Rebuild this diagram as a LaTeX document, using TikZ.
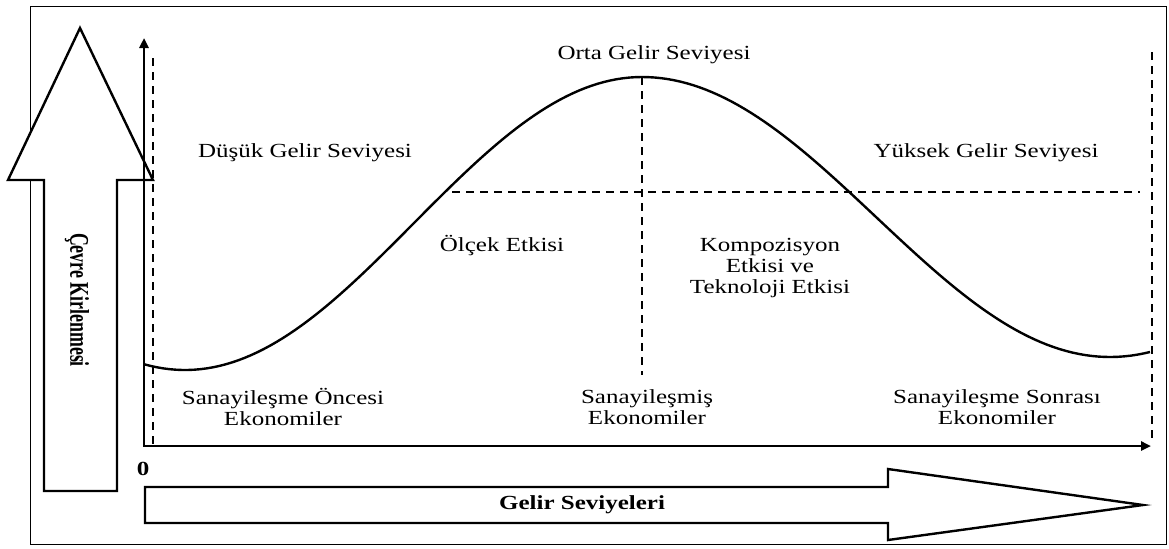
\documentclass[tikz,border=0pt]{standalone}
\usepackage{fontspec}
\setmainfont{Liberation Serif}[FakeStretch=1.25]
\newfontfamily\narrowserif{Liberation Serif}[FakeStretch=0.66]
\usetikzlibrary{arrows.meta}

\begin{document}
\begin{tikzpicture}[x=0.5pt,y=-0.5pt,
        axis/.style={line width=1.2pt,{Triangle[length=5pt,width=4.5pt]}-{Triangle[length=5pt,width=4.5pt]}},
        guide/.style={line width=1pt,dash pattern=on 4pt off 3pt},
        bigarrow/.style={draw,line width=1.2pt,fill=white,line join=miter},
        curve/.style={line width=1.2pt}]
            \useasboundingbox (0,0) rectangle (1169,548);
            \draw[line width=0.5pt] (30,6) rectangle (1166,544);
            \draw[bigarrow] (80,28) -- (153,180) -- (117,180) -- (117,491) -- (44,491) -- (44,180) -- (8,180) -- cycle;
            \draw[bigarrow] (145,487) -- (888,487) -- (888,469) -- (1143,505) -- (888,540) -- (888,523) -- (145,523) -- cycle;
            \coordinate (origin) at (144,446);
            \coordinate (ytop) at (144,38);
            \coordinate (xend) at (1151,446);
            \draw[axis] (ytop) -- (origin) -- (xend);
            \draw[guide] (153,58) -- (153,446);
            \draw[guide] (642,77) -- (642,375);
            \draw[guide] (1152,52) -- (1152,440);
            \draw[guide] (452,192) -- (1140,192);
            \draw[curve] plot[domain=144:642,samples=80] (\x,{370-146.5*(1+cos((\x-642)/457*180))})
                -- plot[domain=642:1150,samples=80] (\x,{357-140*(1+cos((\x-642)/468*180))});
            \begin{scope}[every node/.style={font=\fontsize{10}{10.5}\selectfont,align=center}]
                \node (mid) at (654,55) {Orta Gelir Seviyesi};
                \node (low) at (305,153) {Düşük Gelir Seviyesi};
                \node (high) at (986,153) {Yüksek Gelir Seviyesi};
                \node (scale) at (502,246) {Ölçek Etkisi};
                \node (comp) at (770,268) {Kompozisyon\\Etkisi ve\\Teknoloji Etkisi};
                \node (pre) at (283,407) {Sanayileşme Öncesi\\Ekonomiler};
                \node (ind) at (647,407) {Sanayileşmiş\\Ekonomiler};
                \node (post) at (997,407) {Sanayileşme Sonrası\\Ekonomiler};
                \node[font=\bfseries\fontsize{10}{10.5}\selectfont] (zero) at (143,469) {0};
                \node[font=\bfseries\fontsize{10}{10.5}\selectfont] (income) at (582,505) {Gelir Seviyeleri};
            \end{scope}
            \node[rotate=-90,font=\narrowserif\bfseries\fontsize{13.5}{14}\selectfont] (pollution) at (77,300) {Çevre Kirlenmesi};
        \end{tikzpicture}
\end{document}
